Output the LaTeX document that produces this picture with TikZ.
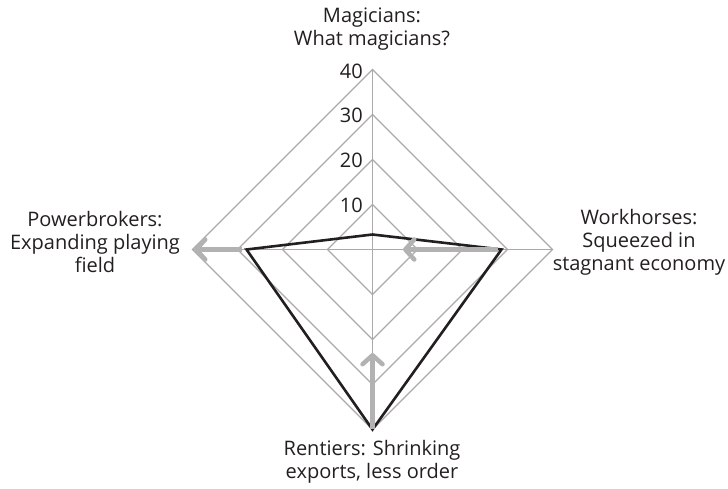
\documentclass[tikz,border=0pt]{standalone}
\usepackage{fontspec}
\setmainfont{Open Sans}
\usetikzlibrary{arrows.meta,calc}
\definecolor{gridc}{RGB}{170,170,170}
\definecolor{arrc}{RGB}{178,178,178}
\definecolor{txtc}{RGB}{35,31,32}
\tikzset{
  gridline/.style={draw=gridc, line width=1.2pt},
  datapoly/.style={draw=txtc, line width=2.6pt, line join=miter},
  grayarrow/.style={draw=arrc, line width=4.5pt, -{Straight Barb[length=9pt, width=20pt, round]}},
  lbl/.style={text=txtc, font=\fontsize{20}{23}\selectfont, align=center},
  tick/.style={text=txtc, font=\fontsize{20}{22}\selectfont, anchor=east, inner sep=0pt},
}
\begin{document}
\begin{tikzpicture}[x=1pt,y=-1pt]
\useasboundingbox (0,0) rectangle (728,489);
\coordinate (c) at (372.5,249.5);
\def\R{45}
% grid rings
\foreach \k in {1,2,3,4}{
  \draw[gridline] ($(c)+(0,-\k*\R)$) -- ($(c)+(\k*\R,0)$) -- ($(c)+(0,\k*\R)$) -- ($(c)+(-\k*\R,0)$) -- cycle;
}
\coordinate (top) at (372.5,69.5);
\coordinate (bot) at (372.5,429.5);
\coordinate (lft) at (192.5,249.5);
\coordinate (rgt) at (552.5,249.5);
\draw[gridline] (top) -- (bot);
\draw[gridline] (lft) -- (rgt);
% tick labels
\node[tick] (t40) at (363,71) {40};
\node[tick] (t30) at (363,115) {30};
\node[tick] (t20) at (363,160) {20};
\node[tick] (t10) at (363,205) {10};
% data polygon
\coordinate (pt) at (372.5,234.5);
\coordinate (pr) at (501.5,249.5);
\coordinate (pb) at (372.5,429.5);
\coordinate (pl) at (246.5,249.5);
\draw[datapoly] (pt) -- (pr) -- (pb) -- (pl) -- cycle;
% gray arrows
\coordinate (al0) at (242,249.5);
\coordinate (al1) at (194,249.5);
\coordinate (ar0) at (498,249.5);
\coordinate (ar1) at (403,249.5);
\coordinate (ab0) at (372.5,429);
\coordinate (ab1) at (372.5,353);
\draw[grayarrow] (al0) -- (al1);
\draw[grayarrow] (ar0) -- (ar1);
\draw[grayarrow] (ab0) -- (ab1);
% axis labels
\node[lbl] (lm) at (372,29) {Magicians:\\What magicians?};
\node[lbl] (lp) at (95,242) {Powerbrokers:\\Expanding playing\\field};
\node[lbl] (lw) at (639,242) {Workhorses:\\Squeezed in\\stagnant economy};
\node[lbl] (lr) at (372,462) {Rentiers: Shrinking\\exports, less order};
\end{tikzpicture}
\end{document}
